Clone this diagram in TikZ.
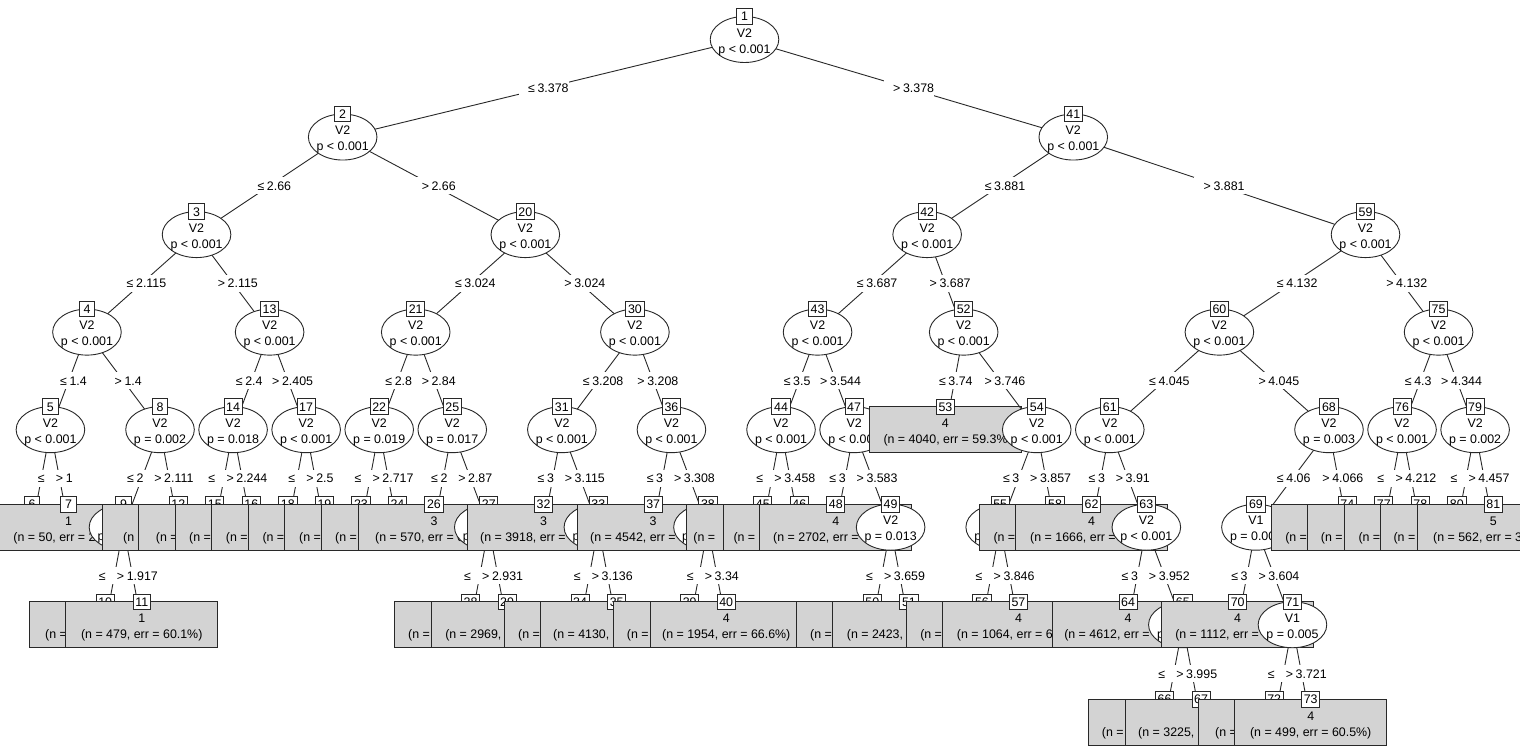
\documentclass[tikz,border=0pt]{standalone}
\usepackage{fontspec}
\setmainfont{Liberation Sans}
\usetikzlibrary{shapes.geometric}
\definecolor{leafgray}{RGB}{211,211,211}
\definecolor{inkgray}{RGB}{40,40,40}

\tikzset{
  txt/.style={font=\fontsize{12.4pt}{14pt}\selectfont, inner sep=0pt, text height=9pt, text depth=0pt, text=black},
  link/.style={draw=inkgray, line width=0.9pt},
  splitnd/.style={ellipse, draw=inkgray, fill=white, line width=0.9pt, minimum width=68.6pt, minimum height=46pt, inner sep=0pt},
  leafnd/.style={rectangle, draw=inkgray, fill=leafgray, line width=0.9pt, minimum width=152pt, minimum height=45.6pt, inner sep=0pt},
  idbox/.style={txt, rectangle, draw=inkgray, fill=white, line width=0.9pt, minimum width=15.5pt, minimum height=15.5pt, inner xsep=2.2pt},
  edgelab/.style={txt, midway, fill=white, inner ysep=4pt, inner xsep=0pt},
}

% split labels: a phantom digit leads, as in the plotmath labels
\newcommand\lbranch[4]{\draw[link] (c#1) -- (c#2) node[edgelab] (l#2) {\phantom{0}\hspace{2.6pt}≤\hspace{2.6pt}#3\phantom{#4}};}
\newcommand\rbranch[3]{\draw[link] (c#1) -- (c#2) node[edgelab] (l#2) {\phantom{0}\hspace{2.6pt}>\hspace{2.6pt}#3};}

% inner nodes
\newcommand\splitnode[3]{%
  \node[splitnd] (n#1) at (c#1) {};
  \node[txt] (v#1) at ([yshift=6.8pt]c#1) {#2};
  \node[txt] (p#1) at ([yshift=-9.2pt]c#1) {#3};
  \node[idbox] (i#1) at ([yshift=23pt]c#1) {#1};}
\newcommand\splitcut[3]{%
  \node[splitnd] (n#1) at (c#1) {};
  \node[txt] (v#1) at ([yshift=6.8pt]c#1) {#2};
  \node[txt, anchor=west] (p#1) at ([xshift=-26pt, yshift=-9.2pt]c#1) {#3};
  \node[idbox] (i#1) at ([yshift=23pt]c#1) {#1};}
\newcommand\splithid[1]{%
  \node[splitnd] (n#1) at (c#1) {};
  \node[txt, anchor=west] (p#1) at ([xshift=-26pt, yshift=-9.2pt]c#1) {p};
  \node[idbox] (i#1) at ([yshift=23pt]c#1) {#1};}

% terminal nodes
\newcommand\leaf[3]{%
  \node[leafnd] (n#1) at (c#1) {};
  \node[txt] (k#1) at ([yshift=6.7pt]c#1) {#2};
  \node[txt] (t#1) at ([yshift=-9.5pt]c#1) {#3};
  \node[idbox] (i#1) at ([yshift=22.8pt]c#1) {#1};}
\newcommand\leafcut[4]{%
  \node[leafnd] (n#1) at (c#1) {};
  \node[txt] (k#1) at ([yshift=6.7pt]c#1) {#2};
  \node[txt, anchor=west] (t#1) at ([xshift=#4pt, yshift=-9.5pt]c#1) {#3};
  \node[idbox] (i#1) at ([yshift=22.8pt]c#1) {#1};}
\newcommand\leafcount[3]{%
  \node[leafnd] (n#1) at (c#1) {};
  \node[txt, anchor=west] (t#1) at ([xshift=#3pt, yshift=-9.5pt]c#1) {#2};
  \node[idbox] (i#1) at ([yshift=22.8pt]c#1) {#1};}
\newcommand\leafbare[1]{%
  \node[leafnd] (n#1) at (c#1) {};
  \node[idbox] (i#1) at ([yshift=22.8pt]c#1) {#1};}

\begin{document}
\begin{tikzpicture}[x=1pt,y=1pt]
\useasboundingbox (0,0) rectangle (1520,-749);
\clip (0,0) rectangle (1520,-749);
\fill[white] (0,0) rectangle (1520,-749);
\begin{scope}[x=36.53pt, y=-97.54pt, shift={(13.9pt,-39.5pt)}]
% node positions: (terminal slot, depth)
\coordinate (c1) at (20,0);
\coordinate (c2) at (9,1); \coordinate (c41) at (29,1);
\coordinate (c3) at (5,2); \coordinate (c20) at (14,2); \coordinate (c42) at (25,2); \coordinate (c59) at (37,2);
\coordinate (c4) at (2,3); \coordinate (c13) at (7,3); \coordinate (c21) at (11,3); \coordinate (c30) at (17,3);
\coordinate (c43) at (22,3); \coordinate (c52) at (26,3); \coordinate (c60) at (33,3); \coordinate (c75) at (39,3);
\coordinate (c5) at (1,4); \coordinate (c8) at (4,4); \coordinate (c14) at (6,4); \coordinate (c17) at (8,4);
\coordinate (c22) at (10,4); \coordinate (c25) at (12,4); \coordinate (c31) at (15,4); \coordinate (c36) at (18,4);
\coordinate (c44) at (21,4); \coordinate (c47) at (23,4); \coordinate (c53) at (25.5,4); \coordinate (c54) at (28,4);
\coordinate (c61) at (30,4); \coordinate (c68) at (36,4); \coordinate (c76) at (38,4); \coordinate (c79) at (40,4);
\coordinate (c6) at (0.5,5); \coordinate (c7) at (1.5,5); \coordinate (c9) at (3,5); \coordinate (c12) at (4.5,5);
\coordinate (c15) at (5.5,5); \coordinate (c16) at (6.5,5); \coordinate (c18) at (7.5,5); \coordinate (c19) at (8.5,5);
\coordinate (c23) at (9.5,5); \coordinate (c24) at (10.5,5); \coordinate (c26) at (11.5,5); \coordinate (c27) at (13,5);
\coordinate (c32) at (14.5,5); \coordinate (c33) at (16,5); \coordinate (c37) at (17.5,5); \coordinate (c38) at (19,5);
\coordinate (c45) at (20.5,5); \coordinate (c46) at (21.5,5); \coordinate (c48) at (22.5,5); \coordinate (c49) at (24,5);
\coordinate (c55) at (27,5); \coordinate (c58) at (28.5,5); \coordinate (c62) at (29.5,5); \coordinate (c63) at (31,5);
\coordinate (c69) at (34,5); \coordinate (c74) at (36.5,5); \coordinate (c77) at (37.5,5); \coordinate (c78) at (38.5,5);
\coordinate (c80) at (39.5,5); \coordinate (c81) at (40.5,5);
\coordinate (c10) at (2.5,6); \coordinate (c11) at (3.5,6); \coordinate (c28) at (12.5,6); \coordinate (c29) at (13.5,6);
\coordinate (c34) at (15.5,6); \coordinate (c35) at (16.5,6); \coordinate (c39) at (18.5,6); \coordinate (c40) at (19.5,6);
\coordinate (c50) at (23.5,6); \coordinate (c51) at (24.5,6); \coordinate (c56) at (26.5,6); \coordinate (c57) at (27.5,6);
\coordinate (c64) at (30.5,6); \coordinate (c65) at (32,6); \coordinate (c70) at (33.5,6); \coordinate (c71) at (35,6);
\coordinate (c66) at (31.5,7); \coordinate (c67) at (32.5,7); \coordinate (c72) at (34.5,7); \coordinate (c73) at (35.5,7);

% ---- left half: node 2
\lbranch{1}{2}{3.378}{}
\lbranch{2}{3}{2.66}{}
\lbranch{3}{4}{2.115}{}
\lbranch{4}{5}{1.4}{}
\lbranch{5}{6}{}{1}
\leafbare{6}
\rbranch{5}{7}{1}
\leafcut{7}{1}{(n = 50, err = 2}{-55.4}
\splitnode{5}{V2}{p < 0.001}
\rbranch{4}{8}{1.4}
\lbranch{8}{9}{2}{.111}
\lbranch{9}{10}{}{1.917}
\leafcount{10}{(n =}{-60.2}
\rbranch{9}{11}{1.917}
\leaf{11}{1}{(n = 479, err = 60.1\%)}
\splithid{9}
\rbranch{8}{12}{2.111}
\leafcount{12}{(n =}{-55.3}
\splitnode{8}{V2}{p = 0.002}
\splitnode{4}{V2}{p < 0.001}
\rbranch{3}{13}{2.115}
\lbranch{13}{14}{2.4}{05}
\lbranch{14}{15}{}{2.244}
\leafcount{15}{(n =}{-59.1}
\rbranch{14}{16}{2.244}
\leafcount{16}{(n =}{-62.3}
\splitnode{14}{V2}{p = 0.018}
\rbranch{13}{17}{2.405}
\lbranch{17}{18}{}{2.5}
\leafcount{18}{(n =}{-62.2}
\rbranch{17}{19}{2.5}
\leafcount{19}{(n =}{-62.1}
\splitnode{17}{V2}{p < 0.001}
\splitnode{13}{V2}{p < 0.001}
\splitnode{3}{V2}{p < 0.001}
\rbranch{2}{20}{2.66}
\lbranch{20}{21}{3.024}{}
\lbranch{21}{22}{2.8}{4}
\lbranch{22}{23}{}{2.717}
\leafcount{23}{(n =}{-61.9}
\rbranch{22}{24}{2.717}
\leafcount{24}{(n =}{-62.5}
\splitnode{22}{V2}{p = 0.019}
\rbranch{21}{25}{2.84}
\lbranch{25}{26}{2}{.87}
\leafcut{26}{3}{(n = 570, err = 6}{-59}
\rbranch{25}{27}{2.87}
\lbranch{27}{28}{}{2.931}
\leafcount{28}{(n =}{-62.5}
\rbranch{27}{29}{2.931}
\leafcount{29}{(n = 2969,}{-62}
\splithid{27}
\splitnode{25}{V2}{p = 0.017}
\splitnode{21}{V2}{p < 0.001}
\rbranch{20}{30}{3.024}
\lbranch{30}{31}{3.208}{}
\lbranch{31}{32}{3}{.115}
\leafcut{32}{3}{(n = 3918, err =}{-63.6}
\rbranch{31}{33}{3.115}
\lbranch{33}{34}{}{3.136}
\leafcount{34}{(n =}{-62.1}
\rbranch{33}{35}{3.136}
\leafcount{35}{(n = 4130,}{-63.7}
\splithid{33}
\splitnode{31}{V2}{p < 0.001}
\rbranch{30}{36}{3.208}
\lbranch{36}{37}{3}{.308}
\leafcut{37}{3}{(n = 4542, err =}{-63.2}
\rbranch{36}{38}{3.308}
\lbranch{38}{39}{}{3.34}
\leafcount{39}{(n =}{-63}
\rbranch{38}{40}{3.34}
\leaf{40}{4}{(n = 1954, err = 66.6\%)}
\splithid{38}
\splitnode{36}{V2}{p < 0.001}
\splitnode{30}{V2}{p < 0.001}
\splitnode{20}{V2}{p < 0.001}
\splitnode{2}{V2}{p < 0.001}

% ---- right half: node 41
\rbranch{1}{41}{3.378}
\lbranch{41}{42}{3.881}{}
\lbranch{42}{43}{3.687}{}
\lbranch{43}{44}{3.5}{44}
\lbranch{44}{45}{}{3.458}
\leafcount{45}{(n =}{-69.5}
\rbranch{44}{46}{3.458}
\leafcount{46}{(n =}{-66}
\splitnode{44}{V2}{p < 0.001}
\rbranch{43}{47}{3.544}
\lbranch{47}{48}{3}{.583}
\leafcut{48}{4}{(n = 2702, err =}{-62.8}
\rbranch{47}{49}{3.583}
\lbranch{49}{50}{}{3.659}
\leafcount{50}{(n =}{-62.4}
\rbranch{49}{51}{3.659}
\leafcount{51}{(n = 2423,}{-62.2}
\splitnode{49}{V2}{p = 0.013}
\splitcut{47}{V2}{p < 0.00}
\splitnode{43}{V2}{p < 0.001}
\rbranch{42}{52}{3.687}
\lbranch{52}{53}{3.74}{6}
\leafcut{53}{4}{(n = 4040, err = 59.3\%}{-62.1}
\rbranch{52}{54}{3.746}
\lbranch{54}{55}{3}{.857}
\lbranch{55}{56}{}{3.846}
\leafcount{56}{(n =}{-61.9}
\rbranch{55}{57}{3.846}
\leafcut{57}{4}{(n = 1064, err = 6}{-61.7}
\splithid{55}
\rbranch{54}{58}{3.857}
\leafcount{58}{(n =}{-61.7}
\splitnode{54}{V2}{p < 0.001}
\splitnode{52}{V2}{p < 0.001}
\splitnode{42}{V2}{p < 0.001}
\rbranch{41}{59}{3.881}
\lbranch{59}{60}{4.132}{}
\lbranch{60}{61}{4.045}{}
\lbranch{61}{62}{3}{.91}
\leafcut{62}{4}{(n = 1666, err =}{-61.5}
\rbranch{61}{63}{3.91}
\lbranch{63}{64}{3}{.952}
\leafcut{64}{4}{(n = 4612, err =}{-64}
\rbranch{63}{65}{3.952}
\lbranch{65}{66}{}{3.995}
\leafcount{66}{(n =}{-62.9}
\rbranch{65}{67}{3.995}
\leafcount{67}{(n = 3225,}{-63.1}
\splithid{65}
\splitnode{63}{V2}{p < 0.001}
\splitnode{61}{V2}{p < 0.001}
\rbranch{60}{68}{4.045}
\lbranch{68}{69}{4.06}{6}
\lbranch{69}{70}{3}{.604}
\leafcut{70}{4}{(n = 1112, err =}{-62.6}
\rbranch{69}{71}{3.604}
\lbranch{71}{72}{}{3.721}
\leafcount{72}{(n =}{-59.2}
\rbranch{71}{73}{3.721}
\leaf{73}{4}{(n = 499, err = 60.5\%)}
\splitnode{71}{V1}{p = 0.005}
\splitcut{69}{V1}{p = 0.00}
\rbranch{68}{74}{4.066}
\leafcount{74}{(n =}{-62.2}
\splitnode{68}{V2}{p = 0.003}
\splitnode{60}{V2}{p < 0.001}
\rbranch{59}{75}{4.132}
\lbranch{75}{76}{4.3}{44}
\lbranch{76}{77}{}{4.212}
\leafcount{77}{(n =}{-63.1}
\rbranch{76}{78}{4.212}
\leafcount{78}{(n =}{-62}
\splitnode{76}{V2}{p < 0.001}
\rbranch{75}{79}{4.344}
\lbranch{79}{80}{}{4.457}
\leafcount{80}{(n =}{-63.5}
\rbranch{79}{81}{4.457}
\leafcut{81}{5}{(n = 562, err = 3}{-60.4}
\splitnode{79}{V2}{p = 0.002}
\splitnode{75}{V2}{p < 0.001}
\splitnode{59}{V2}{p < 0.001}
\splitnode{41}{V2}{p < 0.001}
\splitnode{1}{V2}{p < 0.001}
\end{scope}
\end{tikzpicture}
\end{document}
